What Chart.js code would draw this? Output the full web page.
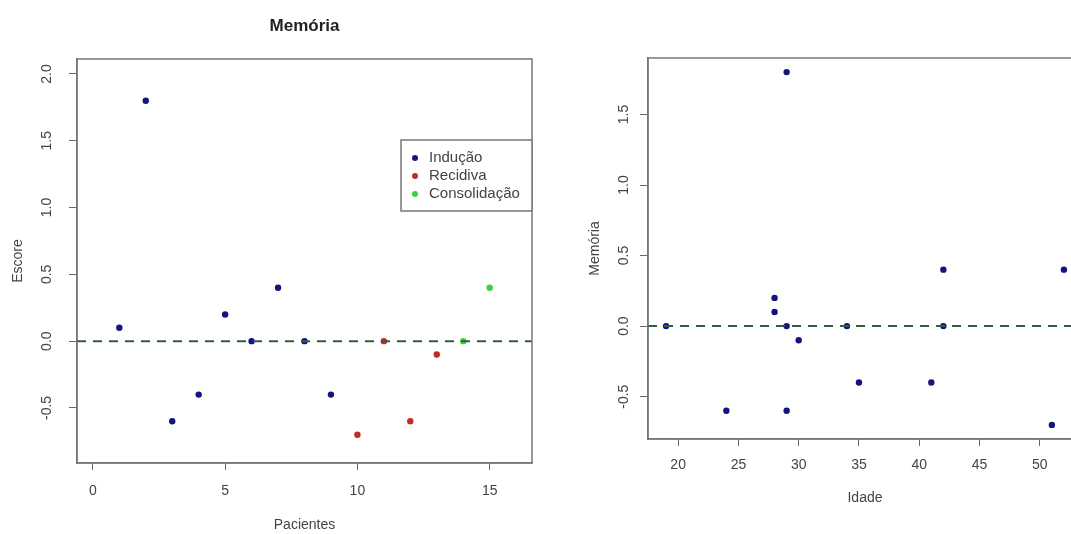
<!DOCTYPE html>
<html>
<head>
<meta charset="utf-8">
<script src="https://cdn.jsdelivr.net/npm/chart.js@4/dist/chart.umd.min.js"></script>
<style>
  html, body { margin: 0; padding: 0; background: #fff; overflow: hidden; }
  #wrap { position: relative; width: 1071px; height: 534px; }
  #escore { position: absolute; left: 0; top: 0; }
  #idade { position: absolute; left: 540px; top: 0; }
</style>
</head>
<body>
<div id="wrap">
  <canvas id="escore" width="540" height="534"></canvas>
  <canvas id="idade" width="550" height="534"></canvas>
</div>
<script>
// pacientes x escore, colorido pela fase do tratamento
const pacientes = [1, 2, 3, 4, 5, 6, 7, 8, 9, 10, 11, 12, 13, 14, 15];
const escore = [0.1, 1.8, -0.6, -0.4, 0.2, 0.0, 0.4, 0.0, -0.4, -0.7, 0.0, -0.6, -0.1, 0.0, 0.4];
const fase = ['Indução', 'Indução', 'Indução', 'Indução', 'Indução', 'Indução', 'Indução', 'Indução', 'Indução',
              'Recidiva', 'Recidiva', 'Recidiva', 'Recidiva', 'Consolidação', 'Consolidação'];
const fases = ['Indução', 'Recidiva', 'Consolidação'];
const corFase = ['#14147e', '#c42a2a', '#3cd23c'];

// idade x memória
const idade = [19, 24, 28, 28, 29, 29, 29, 30, 34, 35, 41, 42, 42, 51, 52];
const memoria = [0.0, -0.6, 0.2, 0.1, 1.8, 0.0, -0.6, -0.1, 0.0, -0.4, -0.4, 0.4, 0.0, -0.7, 0.4];

const ticksPacientes = [0, 5, 10, 15];
const ticksEscore = [-0.5, 0.0, 0.5, 1.0, 1.5, 2.0];
const ticksIdade = [20, 25, 30, 35, 40, 45, 50];
const ticksMemoria = [-0.5, 0.0, 0.5, 1.0, 1.5];

const FONT = 'Liberation Sans, Arial, sans-serif';
const TXT = '#444';

function fixTicks(values) {
  return scale => { scale.ticks = values.map(v => ({ value: v })); };
}

// caixa, linha tracejada em y = 0 e rótulos verticais do eixo y (estilo R)
const rStyle = {
  id: 'rStyle',
  afterDatasetsDraw(chart, args, opts) {
    const { ctx, chartArea: a, scales: { y } } = chart;
    ctx.save();
    ctx.beginPath();
    ctx.rect(a.left, a.top, a.right - a.left, a.bottom - a.top);
    ctx.clip();
    const y0 = y.getPixelForValue(0);
    ctx.strokeStyle = '#2f5f3c';
    ctx.lineWidth = 2;
    ctx.setLineDash([9, 7]);
    ctx.beginPath();
    ctx.moveTo(a.left, y0);
    ctx.lineTo(a.right, y0);
    ctx.stroke();
    ctx.restore();
  },
  afterDraw(chart, args, opts) {
    const { ctx, chartArea: a, scales: { y } } = chart;
    ctx.save();
    ctx.strokeStyle = '#777';
    ctx.lineWidth = 1.5;
    ctx.strokeRect(a.left, a.top, a.right - a.left, a.bottom - a.top);

    ctx.fillStyle = TXT;
    ctx.font = '14px ' + FONT;
    ctx.textAlign = 'center';
    ctx.textBaseline = 'middle';
    y.ticks.forEach(t => {
      ctx.save();
      ctx.translate(opts.labelX, y.getPixelForValue(t.value));
      ctx.rotate(-Math.PI / 2);
      ctx.fillText(t.value.toFixed(1), 0, 0);
      ctx.restore();
    });

    if (opts.title) {
      ctx.fillStyle = '#222';
      ctx.font = 'bold 17px ' + FONT;
      ctx.fillText(opts.title, (a.left + a.right) / 2, 26);
    }

    if (opts.legend) {
      const L = opts.legend;
      ctx.fillStyle = '#fff';
      ctx.fillRect(L.left, L.top, L.right - L.left, L.bottom - L.top);
      ctx.strokeStyle = '#777';
      ctx.lineWidth = 1.5;
      ctx.strokeRect(L.left, L.top, L.right - L.left, L.bottom - L.top);
      ctx.font = '15px ' + FONT;
      ctx.textAlign = 'left';
      chart.data.datasets.forEach((ds, i) => {
        const ry = L.top + 18 + i * 18;
        ctx.fillStyle = ds.backgroundColor;
        ctx.beginPath();
        ctx.arc(L.left + 14, ry, 3, 0, Math.PI * 2);
        ctx.fill();
        ctx.fillStyle = TXT;
        ctx.fillText(ds.label, L.left + 28, ry);
      });
    }
    ctx.restore();
  }
};

function scaleX(min, max, ticks, title, tickPad, titlePad, height) {
  return {
    type: 'linear', min, max,
    afterBuildTicks: fixTicks(ticks),
    afterFit: s => { s.height = height; },
    grid: { drawOnChartArea: false, drawTicks: true, tickLength: 7, color: '#666', lineWidth: 1 },
    border: { display: true, color: '#777', width: 1.5 },
    ticks: { color: TXT, font: { family: FONT, size: 14 }, padding: tickPad, maxRotation: 0, autoSkip: false },
    title: { display: true, text: title, color: TXT, font: { family: FONT, size: 14 }, padding: { top: 0, bottom: titlePad } }
  };
}

function scaleY(min, max, ticks, title, titlePad, width) {
  return {
    type: 'linear', min, max,
    afterBuildTicks: fixTicks(ticks),
    afterFit: s => { s.width = width; },
    grid: { drawOnChartArea: false, drawTicks: true, tickLength: 8, color: '#666', lineWidth: 1 },
    border: { display: true, color: '#777', width: 1.5 },
    ticks: { display: false },
    title: { display: true, text: title, color: TXT, font: { family: FONT, size: 14 }, padding: { top: titlePad, bottom: 0 } }
  };
}

const common = {
  responsive: false,
  animation: false,
  events: [],
  plugins: { legend: { display: false }, tooltip: { enabled: false }, title: { display: false } }
};

new Chart(document.getElementById('escore'), {
  type: 'scatter',
  data: {
    datasets: fases.map((f, k) => ({
      label: f,
      data: pacientes.map((p, i) => ({ x: p, y: escore[i] })).filter((_, i) => fase[i] === f),
      backgroundColor: corFase[k],
      borderColor: corFase[k],
      pointRadius: 3.2,
      borderWidth: 0
    }))
  },
  options: {
    ...common,
    layout: { padding: { top: 59, right: 8, left: 0, bottom: 0 } },
    scales: {
      x: scaleX(-0.6, 16.6, ticksPacientes, 'Pacientes', 13, 0, 71),
      y: scaleY(-0.912, 2.112, ticksEscore, 'Escore', 10, 77)
    },
    plugins: {
      ...common.plugins,
      rStyle: {
        labelX: 47,
        title: 'Memória',
        legend: { left: 401, top: 140, right: 532, bottom: 211 }
      }
    }
  },
  plugins: [rStyle]
});

new Chart(document.getElementById('idade'), {
  type: 'scatter',
  data: {
    datasets: [{
      label: 'Memória',
      data: idade.map((a, i) => ({ x: a, y: memoria[i] })),
      backgroundColor: corFase[0],
      borderColor: corFase[0],
      pointRadius: 3.2,
      borderWidth: 0
    }]
  },
  options: {
    ...common,
    layout: { padding: { top: 58, right: 8, left: 0, bottom: 0 } },
    scales: {
      x: scaleX(17.5, 53.5, ticksIdade, 'Idade', 11, 27, 95),
      y: scaleY(-0.8, 1.9, ticksMemoria, 'Memória', 47, 108)
    },
    plugins: {
      ...common.plugins,
      rStyle: { labelX: 84 }
    }
  },
  plugins: [rStyle]
});
</script>
</body>
</html>
